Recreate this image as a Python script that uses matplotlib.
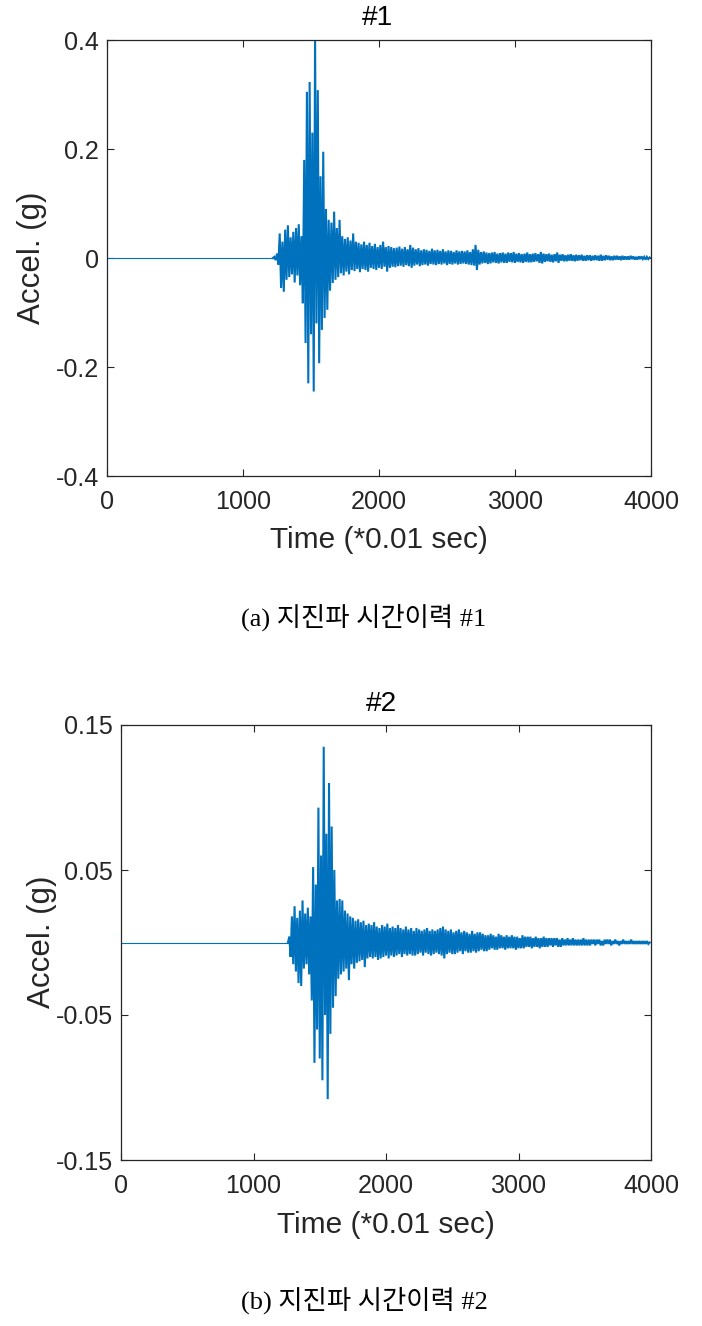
import numpy as np
import matplotlib
matplotlib.use("Agg")
import matplotlib.pyplot as plt
from matplotlib import font_manager

# ---------------- data ----------------
step = 10  # sample spacing in units of 0.01 s
start1 = 1230
accel1 = [
    0.002, -0.004, 0.008, -0.012, 0.045, -0.055, 0.030, -0.062, 0.052, -0.040,
    0.060, -0.035, 0.038, -0.030, 0.048, -0.045, 0.055, -0.032, 0.062, -0.050,
    0.040, -0.083, 0.180, -0.156, 0.305, -0.230, 0.323, -0.140, 0.230, -0.245,
    0.410, -0.120, 0.308, -0.193, 0.150, -0.132, 0.195, -0.110, 0.090, -0.095,
    0.070, -0.060, 0.065, -0.046, 0.085, -0.040, 0.055, -0.035, 0.070, -0.028,
    0.040, -0.032, 0.035, -0.025, 0.038, -0.030, 0.032, -0.022, 0.045, -0.024,
    0.030, -0.020, 0.028, -0.026, 0.025, -0.020, 0.030, -0.022, 0.024, -0.025,
    0.028, -0.018, 0.022, -0.020, 0.026, -0.022, 0.020, -0.018, 0.024, -0.020,
    0.030, -0.016, 0.020, -0.025, 0.022, -0.018, 0.020, -0.016, 0.018, -0.017,
    0.019, -0.015, 0.021, -0.014, 0.017, -0.016, 0.020, -0.013, 0.016, -0.015,
    0.024, -0.018, 0.019, -0.014, 0.016, -0.012, 0.018, -0.015, 0.014, -0.013,
    0.016, -0.012, 0.015, -0.014, 0.013, -0.011, 0.017, -0.012, 0.014, -0.013,
    0.015, -0.011, 0.013, -0.012, 0.016, -0.010, 0.012, -0.013, 0.014, -0.011,
    0.013, -0.012, 0.011, -0.010, 0.014, -0.012, 0.012, -0.011, 0.013, -0.010,
    0.012, -0.011, 0.014, -0.012, 0.011, -0.013, 0.016, -0.014, 0.024, -0.022,
    0.015, -0.012, 0.011, -0.010, 0.012, -0.009, 0.010, -0.011, 0.009, -0.010,
    0.010, -0.008, 0.011, -0.009, 0.008, -0.010, 0.009, -0.008, 0.010, -0.009,
    0.008, -0.009, 0.010, -0.007, 0.009, -0.008, 0.011, -0.009, 0.008, -0.007,
    0.009, -0.008, 0.007, -0.009, 0.008, -0.007, 0.010, -0.008, 0.007, -0.008,
    0.008, -0.007, 0.009, -0.006, 0.007, -0.009, 0.011, -0.010, 0.008, -0.007,
    0.007, -0.006, 0.008, -0.007, 0.006, -0.008, 0.007, -0.006, 0.010, -0.009,
    0.006, -0.005, 0.007, -0.006, 0.005, -0.006, 0.006, -0.005, 0.007, -0.005,
    0.005, -0.006, 0.006, -0.005, 0.005, -0.004, 0.006, -0.005, 0.004, -0.005,
    0.005, -0.004, 0.005, -0.005, 0.004, -0.004, 0.005, -0.004, 0.004, -0.005,
    0.006, -0.005, 0.004, -0.004, 0.005, -0.003, 0.004, -0.004, 0.003, -0.004,
    0.004, -0.003, 0.004, -0.003, 0.003, -0.004, 0.004, -0.003, 0.003, -0.003,
    0.003, -0.003, 0.004, -0.002, 0.003, -0.003, 0.002, -0.003, 0.003, -0.002,
    0.003, -0.002, 0.002, -0.003, 0.002, -0.002, 0.001,
]

start2 = 1270
accel2 = [
    0.004, -0.010, 0.018, -0.015, 0.025, -0.020, 0.017, -0.028, 0.022, -0.030,
    0.029, -0.018, 0.020, -0.015, 0.024, -0.022, 0.018, -0.040, 0.052, -0.083,
    0.040, -0.060, 0.093, -0.080, 0.060, -0.095, 0.135, -0.050, 0.075, -0.108,
    0.110, -0.063, 0.080, -0.045, 0.050, -0.037, 0.029, -0.025, 0.030, -0.022,
    0.029, -0.020, 0.022, -0.018, 0.020, -0.026, 0.018, -0.015, 0.017, -0.018,
    0.015, -0.014, 0.016, -0.013, 0.014, -0.012, 0.015, -0.017, 0.012, -0.011,
    0.013, -0.010, 0.012, -0.011, 0.014, -0.010, 0.011, -0.012, 0.010, -0.011,
    0.012, -0.010, 0.011, -0.009, 0.013, -0.011, 0.010, -0.009, 0.011, -0.010,
    0.010, -0.009, 0.012, -0.008, 0.010, -0.010, 0.009, -0.008, 0.011, -0.009,
    0.009, -0.008, 0.010, -0.009, 0.008, -0.009, 0.010, -0.008, 0.009, -0.007,
    0.008, -0.009, 0.009, -0.007, 0.010, -0.008, 0.008, -0.009, 0.009, -0.008,
    0.008, -0.007, 0.009, -0.008, 0.010, -0.009, 0.011, -0.011, 0.009, -0.008,
    0.008, -0.007, 0.009, -0.008, 0.007, -0.008, 0.008, -0.007, 0.009, -0.006,
    0.007, -0.008, 0.008, -0.006, 0.007, -0.007, 0.006, -0.007, 0.008, -0.006,
    0.006, -0.007, 0.007, -0.006, 0.007, -0.005, 0.006, -0.006, 0.005, -0.006,
    0.005, -0.005, 0.006, -0.004, 0.005, -0.005, 0.004, -0.005, 0.006, -0.004,
    0.005, -0.004, 0.004, -0.005, 0.005, -0.004, 0.004, -0.004, 0.005, -0.004,
    0.004, -0.005, 0.004, -0.004, 0.003, -0.004, 0.005, -0.004, 0.004, -0.003,
    0.004, -0.003, 0.004, -0.004, 0.003, -0.003, 0.004, -0.003, 0.003, -0.004,
    0.003, -0.003, 0.004, -0.003, 0.003, -0.003, 0.003, -0.002, 0.003, -0.003,
    0.003, -0.002, 0.003, -0.003, 0.002, -0.003, 0.003, -0.002, 0.002, -0.002,
    0.003, -0.002, 0.002, -0.002, 0.003, -0.002, 0.002, -0.002, 0.002, -0.002,
    0.002, -0.002, 0.003, -0.002, 0.002, -0.002, 0.002, -0.002, 0.002, -0.001,
    0.002, -0.002, 0.002, -0.001, 0.002, -0.002, 0.001, -0.002, 0.002, -0.001,
    0.002, -0.001, 0.002, -0.002, 0.001, -0.001, 0.002, -0.001, 0.001, -0.002,
    0.001, -0.001, 0.002, -0.001, 0.001, -0.001, 0.001, -0.001, 0.002, -0.001,
    0.001, -0.001, 0.001, -0.001, 0.001, -0.001, 0.001, -0.001, 0.001, -0.001,
    0.001, -0.001, 0.000,
]

xticks = [0, 1000, 2000, 3000, 4000]
xticklabels = ["0", "1000", "2000", "3000", "4000"]
yticks1 = [-0.4, -0.2, 0.0, 0.2, 0.4]
yticklabels1 = ["-0.4", "-0.2", "0", "0.2", "0.4"]
yticks2 = [-0.15, -0.05, 0.05, 0.15]
yticklabels2 = ["-0.15", "-0.05", "0.05", "0.15"]
titles = ["#1", "#2"]
xlabel = "Time (*0.01 sec)"
ylabel = "Accel. (g)"
captions = ["(a) 지진파 시간이력 #1", "(b) 지진파 시간이력 #2"]

# ---------------- styling ----------------
names = {f.name for f in font_manager.fontManager.ttflist}
NARROW = "Liberation Sans Narrow" in names
SANS = "Liberation Sans Narrow" if NARROW else "Liberation Sans"
k = 1.0 if NARROW else 0.86
TXT = "#262626"
LINE = "#0072BD"

W, H = 702, 1326
fig = plt.figure(figsize=(W / 100, H / 100), dpi=100)


def fx(px):
    return px / W


def fy(py):
    return 1 - py / H


def make_panel(left, right, top, bottom, start, accel, yticks, ylabels,
               ylim, title, title_xy, xlab_xy, ylab_xy, caption, cap_xy):
    ax = fig.add_axes([fx(left), fy(bottom), fx(right - left), (bottom - top) / H])
    t = start + step * np.arange(len(accel))
    # quiet pre-event record (zero acceleration) followed by the shaking
    ax.plot([0, start - step], [0.0, 0.0], color=LINE, lw=0.8)
    ax.plot(np.concatenate([[start - step], t]),
            np.concatenate([[0.0], accel]),
            color=LINE, lw=1.5, solid_joinstyle="miter")
    ax.set_xlim(0, 4000)
    ax.set_ylim(*ylim)
    ax.set_xticks(xticks)
    ax.set_xticklabels(xticklabels, family=SANS, fontsize=21 * k, color=TXT)
    ax.set_yticks(yticks)
    ax.set_yticklabels(ylabels, family=SANS, fontsize=21 * k, color=TXT)
    ax.tick_params(direction="in", top=True, right=True, length=5, width=0.8,
                   colors=TXT)
    ax.tick_params(axis="x", pad=10)
    ax.tick_params(axis="y", pad=6)
    for s in ax.spines.values():
        s.set_linewidth(0.9)
        s.set_color(TXT)
    fig.text(fx(title_xy[0]), fy(title_xy[1]), title, family=SANS,
             fontsize=23.5 * k, color="black", ha="center", va="center")
    fig.text(fx(xlab_xy[0]), fy(xlab_xy[1]), xlabel, family=SANS,
             fontsize=25 * k, color=TXT, ha="center", va="center")
    fig.text(fx(ylab_xy[0]), fy(ylab_xy[1]), ylabel, family="Liberation Sans",
             fontsize=22.5, color=TXT, ha="center", va="center", rotation=90)
    fig.text(fx(cap_xy[0]), fy(cap_xy[1]), caption,
             family=["Liberation Serif", "Noto Sans CJK KR"],
             fontsize=19, color="black", ha="center", va="center",
             fontweight="light")
    return ax


make_panel(107, 651, 40, 476, start1, accel1, yticks1, yticklabels1,
           (-0.4, 0.4), titles[0], (377, 18), (379, 540), (32, 258),
           captions[0], (364, 617))
make_panel(121, 651, 725, 1160, start2, accel2, yticks2, yticklabels2,
           (-0.15, 0.15), titles[1], (381, 704), (386, 1225), (42, 942),
           captions[1], (364, 1300))

fig.savefig("out.png", dpi=100)
